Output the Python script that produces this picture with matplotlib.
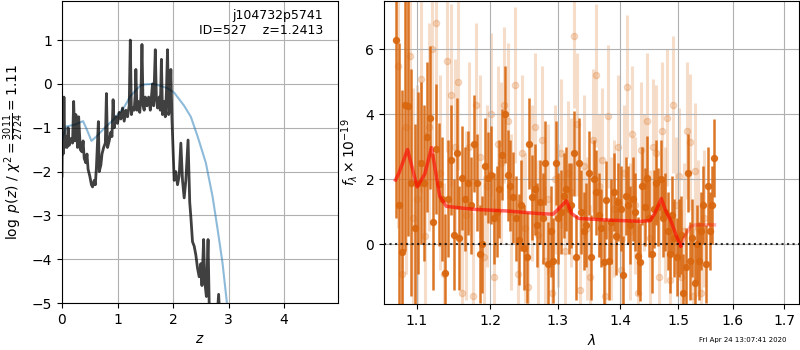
import numpy as np
import matplotlib
matplotlib.use("Agg")
import matplotlib.pyplot as plt
from matplotlib.ticker import FixedLocator, FixedFormatter, NullLocator

# ---- p(z) panel data ----
z_pdf = [0.00, 0.01, 0.02, 0.035, 0.05, 0.07, 0.09, 0.11, 0.13, 0.16,
         0.19, 0.21, 0.23, 0.25, 0.28, 0.30, 0.33, 0.36, 0.38, 0.40,
         0.43, 0.45, 0.47, 0.50, 0.53, 0.55, 0.58, 0.60, 0.62, 0.655,
         0.67, 0.70, 0.72, 0.75, 0.78, 0.80, 0.82, 0.85, 0.88, 0.90,
         0.92, 0.94, 0.97, 1.00, 1.03, 1.06, 1.09, 1.12, 1.15, 1.18,
         1.21, 1.23, 1.25, 1.27, 1.30, 1.32, 1.33, 1.35, 1.37, 1.40,
         1.42, 1.44, 1.46, 1.48, 1.50, 1.53, 1.56, 1.59, 1.61, 1.63,
         1.65, 1.68, 1.70, 1.72, 1.75, 1.77, 1.79, 1.81, 1.84, 1.86,
         1.88, 1.90, 1.92, 1.94, 1.96, 1.98, 2.00, 2.02, 2.05, 2.08,
         2.11, 2.14, 2.17, 2.20, 2.23, 2.27, 2.30, 2.32, 2.35, 2.38,
         2.41, 2.44, 2.47, 2.50, 2.52, 2.55, 2.57, 2.60, 2.63, 2.65,
         2.70, 2.78, 2.82, 2.85, 3.00, 3.50, 4.00, 4.95]
logp_pdf = [-2.1, -0.65, -1.6, -0.3, -1.45, -1.2, -1.45, -1.0, -1.4, -1.25,
            -1.35, -0.4, -1.3, -0.7, -1.45, -0.75, -1.5, -1.55, -1.3, -1.7,
            -1.8, -1.6, -1.95, -2.1, -2.3, -2.35, -2.2, -2.3, -1.9, -0.86,
            -2.0, -1.85, -1.6, -1.45, -1.35, -0.22, -1.45, -1.3, -1.1, -1.2,
            -0.36, -1.0, -0.75, -0.9, -0.65, -0.8, -0.55, -0.85, -0.6, -0.75,
            -0.5, 1.0, -0.7, -0.55, -0.6, -0.2, 0.33, -0.6, -0.4, -0.65,
            -0.3, 0.9, -0.5, -0.6, -0.3, -0.5, -0.3, -0.6, -0.3, 0.0,
            -0.5, 0.78, -0.35, -0.55, -0.3, -0.6, 0.56, -0.7, -0.4, -0.75,
            -0.2, 0.78, -0.7, -0.6, 0.33, -0.8, -1.5, -2.2, -2.0, -2.3,
            -2.1, -1.35, -2.2, -2.6, -2.2, -1.28, -2.7, -3.03, -3.6, -3.7,
            -3.9, -4.2, -4.4, -4.1, -4.6, -3.55, -4.5, -4.85, -3.55, -5.0,
            -5.3, -5.6, -4.8, -5.5, -6.5, -9.0, -12.0, -20.0]

z_chi2 = [0.00, 0.02, 0.08, 0.23, 0.38, 0.45, 0.53, 0.62, 0.74, 0.93,
          1.11, 1.23, 1.35, 1.41, 1.50, 1.65, 1.79, 1.90, 2.02, 2.20,
          2.32, 2.44, 2.59, 2.71, 2.80, 2.89, 2.97, 3.10, 3.50, 4.95]
logp_chi2 = [-1.3, -1.19, -0.97, -0.93, -0.85, -1.05, -1.3, -1.2, -1.04, -0.81,
             -0.55, -0.28, -0.12, -0.04, -0.01, 0.0, -0.05, -0.1, -0.2, -0.5,
             -0.75, -1.19, -1.8, -2.56, -3.3, -4.08, -5.0, -6.5, -12.0, -30.0]

# ---- spectrum panel data ----
lam_a = [1.073, 1.077, 1.081, 1.085, 1.089, 1.093, 1.097, 1.101, 1.105, 1.109,
         1.113, 1.117, 1.121, 1.125, 1.129, 1.133, 1.137, 1.141, 1.145, 1.149,
         1.153, 1.157, 1.161, 1.165, 1.169, 1.173, 1.177, 1.181, 1.185, 1.189,
         1.193, 1.197, 1.201, 1.205, 1.209, 1.213, 1.217, 1.221, 1.225, 1.229,
         1.233, 1.237, 1.241, 1.245, 1.249, 1.253, 1.257, 1.261, 1.265, 1.269,
         1.273, 1.277, 1.281, 1.285, 1.289, 1.293, 1.297, 1.301, 1.305, 1.309,
         1.313, 1.317, 1.321, 1.325, 1.329, 1.333, 1.337, 1.341, 1.345, 1.349,
         1.353, 1.357, 1.361, 1.365, 1.369, 1.373, 1.377, 1.381, 1.385, 1.389,
         1.393, 1.397, 1.401, 1.405, 1.409, 1.413, 1.417, 1.421, 1.425, 1.429,
         1.433, 1.437, 1.441, 1.445, 1.449, 1.453, 1.457, 1.461, 1.465, 1.469,
         1.473, 1.477, 1.481, 1.485, 1.489, 1.493, 1.497, 1.501, 1.505, 1.509,
         1.513, 1.517, 1.521, 1.525, 1.529, 1.533, 1.537, 1.541, 1.545, 1.549,
         1.553, 1.557, 1.561, 1.565]
flux_a = [6.3, 1.2, -0.25, 4.3, 4.25, 1.9, 0.5, 1.9, 2.5, 1.9,
          3.3, 3.9, 0.7, 2.95, 1.85, 1.4, -0.88, 1.4, 2.6, 0.3,
          2.8, 0.2, 2.05, 1.4, 1.9, 1.2, 3.1, 1.9, -0.3, 0.0,
          2.4, 2.05, 2.13, 0.8, 1.0, 1.7, 2.76, 4.0, 2.13, 1.8,
          1.45, 0.8, 0.15, 1.2, -0.1, -0.4, 3.1, 1.45, 1.7, 0.6,
          1.3, 0.8, 2.5, -0.6, 0.4, -0.5, 2.5, 0.8, 1.0, 1.5,
          1.7, 1.1, 1.2, 2.8, -0.4, 2.5, 1.0, 0.4, 0.6, 2.2,
          -0.4, 2.0, 1.6, 0.9, 0.49, -0.55, 1.36, -0.5, 0.7, 1.6,
          0.25, 1.3, 1.1, -0.95, 1.5, 1.2, 0.6, 1.4, 1.0, -0.35,
          -0.55, 1.8, 1.15, 2.05, 0.8, -0.3, 1.1, 1.9, 1.15, 2.0,
          0.8, 1.0, 0.4, -0.3, 0.9, 0.2, -0.4, 0.2, 0.3, -1.5,
          -0.7, 2.2, -0.5, 0.2, -1.2, 0.0, -0.5, 0.4, 1.2, -0.6,
          1.8, 0.4, 1.2, 2.65]
err_a = [5.5, 5.0, 5.0, 4.5, 4.0, 3.5, 3.2, 2.8, 2.5, 2.4,
         2.3, 2.2, 2.1, 2.0, 1.9, 1.9, 1.8, 1.8, 1.7, 1.7,
         1.7, 1.6, 1.6, 1.6, 1.6, 1.5, 1.5, 1.5, 1.5, 1.5,
         1.5, 1.4, 1.5, 1.4, 1.4, 1.5, 1.4, 1.5, 1.4, 1.4,
         1.4, 1.3, 1.4, 1.4, 1.3, 1.4, 1.4, 1.3, 1.4, 1.3,
         1.3, 1.4, 1.3, 1.3, 1.4, 1.3, 1.3, 1.4, 1.3, 1.3,
         1.3, 1.4, 1.3, 1.3, 1.3, 1.4, 1.3, 1.2, 1.3, 1.3,
         1.3, 1.2, 1.3, 1.3, 1.2, 1.3, 1.2, 1.2, 1.3, 1.2,
         1.2, 1.2, 1.3, 1.2, 1.2, 1.2, 1.2, 1.3, 1.2, 1.2,
         1.2, 1.2, 1.2, 1.3, 1.2, 1.2, 1.2, 1.3, 1.2, 1.2,
         1.2, 1.2, 1.2, 1.2, 1.2, 1.2, 1.2, 1.2, 1.2, 1.2,
         1.2, 1.2, 1.2, 1.2, 1.2, 1.2, 1.2, 1.2, 1.2, 1.2,
         1.2, 1.2, 1.2, 1.2]

lam_b = [1.0755, 1.0805, 1.0855, 1.0905, 1.0955, 1.1005, 1.1055, 1.1105, 1.1155, 1.1205,
         1.1255, 1.1305, 1.1355, 1.1405, 1.1455, 1.1505, 1.1555, 1.1605, 1.1655, 1.1705,
         1.1755, 1.1805, 1.1855, 1.1905, 1.1955, 1.2005, 1.2055, 1.2105, 1.2155, 1.2205,
         1.2255, 1.2305, 1.2355, 1.2405, 1.2455, 1.2505, 1.2555, 1.2605, 1.2655, 1.2705,
         1.2755, 1.2805, 1.2855, 1.2905, 1.2955, 1.3005, 1.3055, 1.3105, 1.3155, 1.3205,
         1.3255, 1.3305, 1.3355, 1.3405, 1.3455, 1.3505, 1.3555, 1.3605, 1.3655, 1.3705,
         1.3755, 1.3805, 1.3855, 1.3905, 1.3955, 1.4005, 1.4055, 1.4105, 1.4155, 1.4205,
         1.4255, 1.4305, 1.4355, 1.4405, 1.4455, 1.4505, 1.4555, 1.4605, 1.4655, 1.4705,
         1.4755, 1.4805, 1.4855, 1.4905, 1.4955, 1.5005, 1.5055, 1.5105, 1.5155, 1.5205,
         1.5255, 1.5305, 1.5355, 1.5405, 1.5455]
flux_b = [5.5, -0.9, 3.6, 5.8, 0.8, 1.4, 5.1, 0.25, 3.6, 6.0,
          6.8, 2.2, -0.9, 5.65, 4.6, 3.0, 5.0, -1.5, 0.9, 3.0,
          -1.6, 4.3, 2.7, -0.4, 1.8, 4.0, -1.0, 3.1, 2.5, 4.3,
          3.8, 1.0, 4.9, -0.9, 2.8, 0.5, -1.3, 1.9, 3.6, 0.3,
          3.2, -0.5, 1.4, -1.5, 2.0, 0.9, 2.8, -0.2, 2.2, 1.6,
          6.4, 3.7, -1.4, 2.4, 0.5, -1.0, 3.2, 5.2, 1.8, 2.6,
          -1.6, 3.95, 0.5, 1.1, 3.0, -0.8, 2.2, 4.85, 0.4, 3.4,
          1.2, -1.5, 2.9, 1.9, 3.8, 0.2, 3.0, 2.8, -1.0, 3.5,
          0.9, 3.9, -1.1, 4.3, 1.2, 2.1, -1.0, 0.4, 3.5, 3.15,
          -1.6, 2.25, 0.5, -1.5, 0.8]
err_b = [5.0, 4.5, 4.5, 4.0, 4.0, 3.5, 3.5, 3.2, 3.2, 3.0,
         3.0, 3.0, 2.8, 2.8, 2.8, 2.7, 2.7, 2.6, 2.6, 2.6,
         2.6, 2.5, 2.5, 2.5, 2.5, 2.5, 2.4, 2.4, 2.5, 2.4,
         2.4, 2.4, 2.4, 2.3, 2.4, 2.3, 2.3, 2.4, 2.3, 2.3,
         2.3, 2.3, 2.3, 2.2, 2.3, 2.2, 2.3, 2.2, 2.2, 2.3,
         2.2, 2.2, 2.2, 2.2, 2.2, 2.2, 2.2, 2.2, 2.2, 2.2,
         2.2, 2.2, 2.2, 2.1, 2.2, 2.1, 2.1, 2.2, 2.1, 2.1,
         2.1, 2.1, 2.1, 2.1, 2.1, 2.1, 2.1, 2.1, 2.1, 2.1,
         2.1, 2.1, 2.1, 2.1, 2.1, 2.1, 2.1, 2.1, 2.1, 2.1,
         2.1, 2.1, 2.1, 2.1, 2.1]

lam_model = [1.0725, 1.077, 1.0879, 1.1004, 1.1105, 1.1193, 1.1303, 1.1393, 1.176, 1.2227,
             1.2703, 1.2929, 1.3032, 1.3136, 1.3215, 1.3322, 1.378, 1.4335, 1.4502, 1.4586,
             1.4699, 1.4772, 1.4868, 1.4955, 1.5042]
flux_model = [1.98, 2.2, 2.92, 1.77, 2.17, 2.98, 1.48, 1.17, 1.08, 1.03,
              0.95, 0.93, 1.13, 1.34, 0.95, 0.8, 0.75, 0.71, 0.73, 0.95,
              1.41, 1.05, 0.72, 0.3, -0.05]
lam_model_ext = [1.5042, 1.5128, 1.5216, 1.5305, 1.5655]
flux_model_ext = [-0.05, 0.3, 0.55, 0.6, 0.6]

lam_ticks = [1.1, 1.2, 1.3, 1.4, 1.5, 1.6, 1.7]

fig = plt.figure(figsize=(8, 3.5), dpi=100)
ax1 = fig.add_axes([0.0775, 0.134, 0.345, 0.863])
ax2 = fig.add_axes([0.48, 0.131, 0.519, 0.866])

# p(z)
ax1.plot(z_chi2, logp_chi2, color='tab:blue', alpha=0.5, lw=1.5)
ax1.plot(z_pdf, logp_pdf, color='k', alpha=0.75, lw=2)
ax1.set_xlim(0, 4.97)
ax1.set_ylim(-5, 1.89)
ax1.set_yticks([-5, -4, -3, -2, -1, 0, 1])
ax1.grid()
ax1.set_xlabel('$z$')
ax1.set_ylabel(r'$\log\ p(z)$' + ' / ' + r'$\chi^2=\frac{3011}{2724}=1.11$')
ax1.text(0.945, 0.975, 'j104732p5741\nID=527    z=1.2413', transform=ax1.transAxes,
         ha='right', va='top', fontsize=9)

# spectrum
orange = '#d9670f'
ax2.errorbar(lam_b, flux_b, yerr=err_b, fmt='o', color=orange, alpha=0.22,
             ms=4.5, elinewidth=2.2, capsize=0, zorder=1)
ax2.errorbar(lam_a, flux_a, yerr=err_a, fmt='o', color=orange, alpha=0.9,
             ms=4.3, elinewidth=1.8, capsize=0, zorder=2)
ax2.plot(lam_model, flux_model, color='r', alpha=0.6, lw=2.5, zorder=4)
ax2.plot(lam_model_ext, flux_model_ext, color='r', alpha=0.3, lw=2.5, zorder=4)
ax2.axhline(0, color='k', linestyle=':', lw=1.5, alpha=0.8, zorder=5)

ax2.set_xscale('log')
ax2.set_xlim(1.058, 1.731)
ax2.set_ylim(-1.84, 7.49)
ax2.xaxis.set_major_locator(FixedLocator(lam_ticks))
ax2.xaxis.set_major_formatter(FixedFormatter(['%.1f' % t for t in lam_ticks]))
ax2.xaxis.set_minor_locator(NullLocator())
ax2.set_yticks([0, 2, 4, 6])
ax2.grid()
ax2.set_xlabel(r'$\lambda$')
ax2.set_ylabel(r'$f_\lambda \times 10^{-19}$')

fig.text(0.929, 0.028, 'Fri Apr 24 13:07:41 2020', ha='center', va='center', fontsize=5)

fig.savefig('out.png', dpi=100)
